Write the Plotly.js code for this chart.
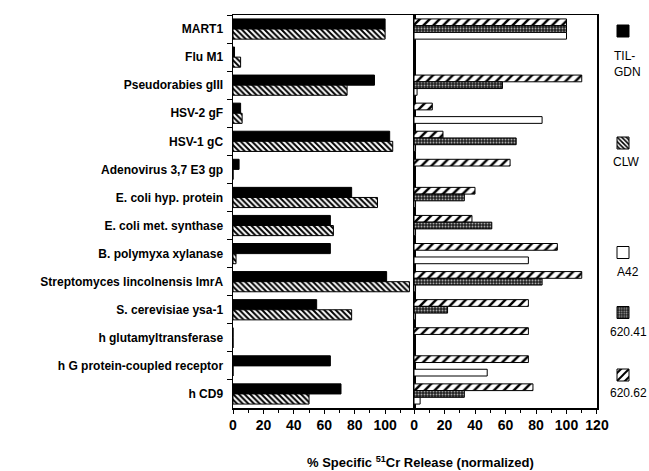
<!DOCTYPE html>
<html>
<head>
<meta charset="utf-8">
<script src="https://cdn.plot.ly/plotly-3.0.1.min.js"></script>
<style>html,body{margin:0;padding:0;background:#fff;}#chart{width:649px;height:471px;}</style>
</head>
<body>
<div id="chart"></div>
<script>
var categories = ["MART1","Flu M1","Pseudorabies gIII","HSV-2 gF","HSV-1 gC","Adenovirus 3,7 E3 gp","E. coli hyp. protein","E. coli met. synthase","B. polymyxa xylanase","Streptomyces lincolnensis lmrA","S. cerevisiae ysa-1","h glutamyltransferase","h G protein-coupled receptor","h CD9"];
var tilGdn = [100, 1, 93, 5, 103, 4, 78, 64, 64, 101, 55, 0, 64, 71];
var clw    = [100, 5, 75, 6, 105, 0, 95, 66, 2, 116, 78, 0, 0, 50];
var a42    = [100, 0, 2, 84, 1, 0, 1, 1, 75, 1, 1, 0, 48, 4];
var c62041 = [100, 0, 58, 0, 67, 0, 33, 51, 0, 84, 22, 0, 0, 33];
var c62062 = [100, 0, 110, 12, 19, 63, 40, 38, 94, 110, 75, 75, 75, 78];
var leftTicks = [0, 20, 40, 60, 80, 100];
var rightTicks = [0, 20, 40, 60, 80, 100, 120];

var FONT = "Liberation Sans, Arial, Helvetica, sans-serif";
var line = {color: "#000", width: 1};

function bar(name, vals, xa, ya, marker, legend) {
  return {type: "bar", orientation: "h", name: name, x: vals, y: categories,
    xaxis: xa, yaxis: ya, marker: marker, legend: legend, showlegend: true};
}

var traces = [
  bar("TIL-GDN", tilGdn, "x", "y", {color: "#000", line: line}, "legend"),
  bar("CLW", clw, "x", "y", {color: "#fff", line: line,
      pattern: {shape: "\\", fgcolor: "#000", bgcolor: "#fff", size: 4, solidity: 0.5, fillmode: "replace"}}, "legend2"),
  bar("620.62", c62062, "x2", "y2", {color: "#fff", line: line,
      pattern: {shape: "/", fgcolor: "#000", bgcolor: "#fff", size: 7, solidity: 0.35, fillmode: "replace"}}, "legend5"),
  bar("620.41", c62041, "x2", "y2", {color: "#222", line: line,
      pattern: {shape: ".", fgcolor: "#aaa", bgcolor: "#222", size: 3, solidity: 0.3, fillmode: "replace"}}, "legend4"),
  bar("A42", a42, "x2", "y2", {color: "#fff", line: line}, "legend3")
];

function px2x(p) { return (p - 233) / 364; }
function px2y(p) { return (408 - p) / 393; }

function leg(yPix) {
  return {x: px2x(603), xanchor: "left", y: px2y(yPix), yanchor: "middle",
    font: {size: 1, color: "rgba(0,0,0,0)"}, itemwidth: 30, bgcolor: "rgba(0,0,0,0)", borderwidth: 0};
}

var tickFont = {family: FONT, size: 14, color: "#000", weight: "bold"};
var axisCommon = {showgrid: false, zeroline: false, showline: true, linecolor: "#000", linewidth: 1.5,
  mirror: true, ticks: "outside", ticklen: 4, tickwidth: 1, tickcolor: "#000", tickfont: tickFont,
  minor: {dtick: 10, ticks: "outside", ticklen: 3, tickcolor: "#000", showgrid: false}, fixedrange: true};

var legFont = {family: FONT, size: 12, color: "#000"};

var layout = {
  width: 649, height: 471,
  margin: {l: 233, r: 52, t: 15, b: 63, autoexpand: false},
  paper_bgcolor: "#fff", plot_bgcolor: "#fff",
  barmode: "group", bargap: 0.28, bargroupgap: 0,
  font: {family: FONT, color: "#000"},
  xaxis: Object.assign({}, axisCommon, {domain: [0, 0.4973], range: [0, 119], anchor: "y",
    tickmode: "array", tickvals: leftTicks,
    minor: {tickmode: "array", tickvals: [10, 30, 50, 70, 90, 110], ticks: "outside", ticklen: 3, tickcolor: "#000"}}),
  xaxis2: Object.assign({}, axisCommon, {domain: [0.4973, 1], range: [0, 120], anchor: "y2",
    tickmode: "array", tickvals: rightTicks}),
  yaxis: {domain: [0, 1], anchor: "x", type: "category", autorange: "reversed",
    showgrid: false, zeroline: false, showline: true, linecolor: "#000", linewidth: 1.5, mirror: true,
    ticks: "outside", tickson: "boundaries", ticklen: 5, tickcolor: "#000", ticklabelstandoff: 6,
    tickfont: {family: FONT, size: 12, color: "#000", weight: "bold"}, fixedrange: true},
  yaxis2: {matches: "y", anchor: "x2", type: "category", autorange: "reversed", showticklabels: false,
    showgrid: false, zeroline: false, showline: true, linecolor: "#000", linewidth: 1.5, mirror: true,
    ticks: "", fixedrange: true},
  legend: leg(31), legend2: leg(143), legend3: leg(252.5), legend4: leg(312.5), legend5: leg(375),
  annotations: [
    {xref: "paper", yref: "paper", x: px2x(420), y: px2y(462), xanchor: "center", yanchor: "middle", showarrow: false,
     text: "% Specific <sup>51</sup>Cr Release (normalized)", font: {family: FONT, size: 13, color: "#000", weight: "bold"}},
    {xref: "paper", yref: "paper", x: px2x(612), y: px2y(64), xanchor: "left", yanchor: "middle", align: "left", showarrow: false,
     text: "TIL-<br>GDN", font: legFont},
    {xref: "paper", yref: "paper", x: px2x(626), y: px2y(162), xanchor: "center", yanchor: "middle", showarrow: false,
     text: "CLW", font: legFont},
    {xref: "paper", yref: "paper", x: px2x(627.5), y: px2y(272), xanchor: "center", yanchor: "middle", showarrow: false,
     text: "A42", font: legFont},
    {xref: "paper", yref: "paper", x: px2x(628.5), y: px2y(332), xanchor: "center", yanchor: "middle", showarrow: false,
     text: "620.41", font: legFont},
    {xref: "paper", yref: "paper", x: px2x(628.5), y: px2y(393), xanchor: "center", yanchor: "middle", showarrow: false,
     text: "620.62", font: legFont}
  ]
};

Plotly.newPlot("chart", traces, layout, {displayModeBar: false, staticPlot: true});
</script>
</body>
</html>
